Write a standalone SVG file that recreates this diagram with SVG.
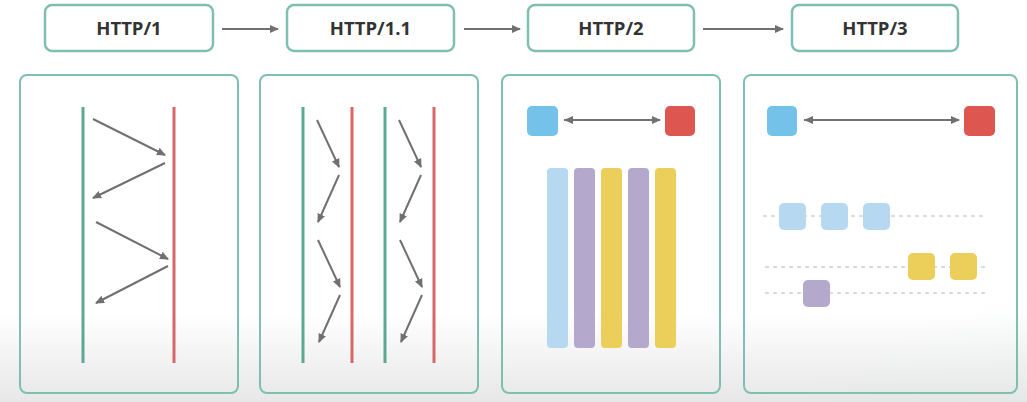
<svg xmlns="http://www.w3.org/2000/svg" width="1027" height="402" viewBox="0 0 1027 402">
<defs>
<linearGradient id="bg" x1="0" y1="0" x2="0" y2="1">
<stop offset="0" stop-color="#ffffff"/>
<stop offset="0.78" stop-color="#ffffff"/>
<stop offset="1" stop-color="#e6e7e6"/>
</linearGradient>
<radialGradient id="glow" cx="1" cy="1" r="1">
<stop offset="0" stop-color="#dcebe4" stop-opacity="0.7"/>
<stop offset="1" stop-color="#dcebe4" stop-opacity="0"/>
</radialGradient>
<marker id="ah" markerWidth="10" markerHeight="10" refX="8" refY="5" orient="auto" markerUnits="userSpaceOnUse">
<path d="M0,1 L9,5 L0,9 Z" fill="#707070"/>
</marker>
<marker id="ahs" markerWidth="10" markerHeight="10" refX="1" refY="5" orient="auto" markerUnits="userSpaceOnUse">
<path d="M10,1 L1,5 L10,9 Z" fill="#707070"/>
</marker>
</defs>
<style>
.hdr{fill:#ffffff;stroke:#7fbfb1;stroke-width:2.5}
.hdrt{font-family:"Open Sans","Liberation Sans",sans-serif;font-weight:bold;font-size:18.5px;fill:#333333;text-anchor:middle}
.panel{fill:none;stroke:#7fbfb1;stroke-width:2}
.g{stroke:#5aa994;stroke-width:3}
.r{stroke:#d9676a;stroke-width:3}
.ar{stroke:#707070;stroke-width:2;fill:none;marker-end:url(#ah)}
.dar{stroke:#707070;stroke-width:2;fill:none;marker-end:url(#ah);marker-start:url(#ahs)}
.dash{stroke:#b8b8b8;stroke-width:1;stroke-dasharray:4 4;fill:none}
.lb{fill:#b6d9f1}
.pu{fill:#b5a8cd}
.ye{fill:#ebcf5a}
.bs{fill:#74c2ea}
.rs{fill:#dd5650}
</style>
<rect x="0" y="0" width="1027" height="402" fill="url(#bg)"/>
<ellipse cx="1027" cy="402" rx="330" ry="170" fill="url(#glow)"/>

<g id="connectors">
<line class="ar" x1="222" y1="29" x2="278" y2="29"/>
<line class="ar" x1="464" y1="29" x2="520" y2="29"/>
<line class="ar" x1="703" y1="29" x2="783" y2="29"/>
</g>

<g id="h1"><rect class="hdr" x="45" y="5" width="168" height="46" rx="7"/><text class="hdrt" x="129" y="35">HTTP/1</text></g>
<g id="h11"><rect class="hdr" x="287" y="5" width="167" height="46" rx="7"/><text class="hdrt" x="370.5" y="35">HTTP/1.1</text></g>
<g id="h2"><rect class="hdr" x="528" y="5" width="166" height="46" rx="7"/><text class="hdrt" x="611" y="35">HTTP/2</text></g>
<g id="h3"><rect class="hdr" x="792" y="5" width="166" height="46" rx="7"/><text class="hdrt" x="875" y="35">HTTP/3</text></g>

<g id="panel1">
<rect class="panel" x="20" y="75" width="218" height="318" rx="7"/>
<line class="g" x1="83" y1="107" x2="83" y2="363"/>
<line class="r" x1="174" y1="107" x2="174" y2="363"/>
<line class="ar" x1="93" y1="119" x2="165" y2="155"/>
<line class="ar" x1="165" y1="163" x2="93" y2="198"/>
<line class="ar" x1="96" y1="222" x2="168" y2="259"/>
<line class="ar" x1="168" y1="266" x2="96" y2="303"/>
</g>

<g id="panel2">
<rect class="panel" x="260" y="75" width="218" height="318" rx="7"/>
<line class="g" x1="303" y1="107" x2="303" y2="363"/>
<line class="r" x1="352" y1="107" x2="352" y2="363"/>
<line class="g" x1="385" y1="107" x2="385" y2="363"/>
<line class="r" x1="434" y1="107" x2="434" y2="363"/>
<line class="ar" x1="317" y1="120" x2="339" y2="167"/>
<line class="ar" x1="339" y1="175" x2="318" y2="222"/>
<line class="ar" x1="318" y1="240" x2="340" y2="287"/>
<line class="ar" x1="340" y1="295" x2="319" y2="342"/>
<line class="ar" x1="399" y1="120" x2="421" y2="167"/>
<line class="ar" x1="421" y1="175" x2="400" y2="222"/>
<line class="ar" x1="400" y1="240" x2="422" y2="287"/>
<line class="ar" x1="422" y1="295" x2="401" y2="342"/>
</g>

<g id="panel3">
<rect class="panel" x="502" y="75" width="218" height="318" rx="7"/>
<rect class="bs" x="527" y="106" width="31" height="30" rx="5"/>
<rect class="rs" x="665" y="106" width="30" height="30" rx="5"/>
<line class="dar" x1="564" y1="120" x2="660" y2="120"/>
<rect class="lb" x="547" y="168" width="21" height="180" rx="4"/>
<rect class="pu" x="574" y="168" width="21" height="180" rx="4"/>
<rect class="ye" x="601" y="168" width="21" height="180" rx="4"/>
<rect class="pu" x="628" y="168" width="21" height="180" rx="4"/>
<rect class="ye" x="655" y="168" width="21" height="180" rx="4"/>
</g>

<g id="panel4">
<rect class="panel" x="744" y="75" width="273" height="318" rx="7"/>
<rect class="bs" x="767" y="106" width="30" height="30" rx="5"/>
<rect class="rs" x="964" y="106" width="31" height="30" rx="5"/>
<line class="dar" x1="804" y1="120" x2="959" y2="120"/>
<line class="dash" x1="763" y1="216" x2="987" y2="216"/>
<line class="dash" x1="765" y1="267" x2="987" y2="267"/>
<line class="dash" x1="765" y1="293" x2="989" y2="293"/>
<rect class="lb" x="779" y="203" width="27" height="27" rx="5"/>
<rect class="lb" x="821" y="203" width="27" height="27" rx="5"/>
<rect class="lb" x="863" y="203" width="27" height="27" rx="5"/>
<rect class="ye" x="908" y="253" width="27" height="27" rx="5"/>
<rect class="ye" x="950" y="253" width="27" height="27" rx="5"/>
<rect class="pu" x="803" y="280" width="27" height="27" rx="5"/>
</g>
</svg>
